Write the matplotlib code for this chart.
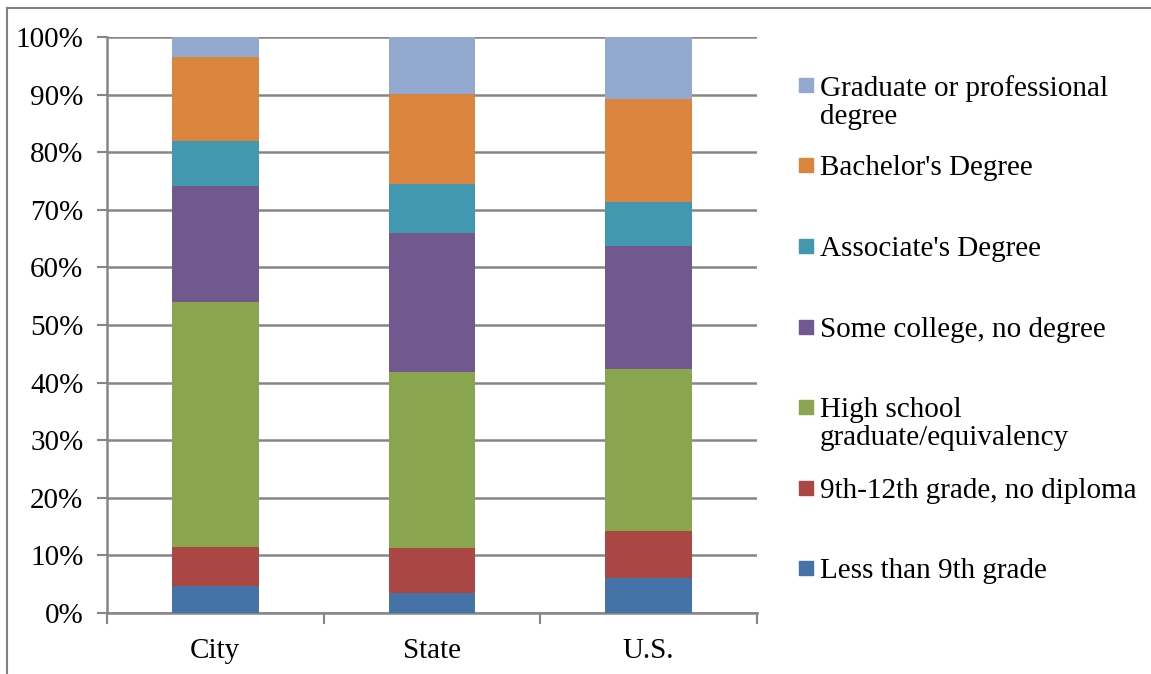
import numpy as np
import matplotlib
matplotlib.use("Agg")
import matplotlib.pyplot as plt
from matplotlib.patches import Rectangle
from matplotlib.lines import Line2D

plt.rcParams["font.family"] = ["Liberation Serif", "DejaVu Serif"]

# areas compared
places = ["City", "State", "U.S."]

# educational attainment shares (%), bottom to top
less_9th = [4.7, 3.4, 6.0]
grade_9_12 = [6.8, 7.9, 8.2]
high_school = [42.5, 30.5, 28.2]
some_college = [20.1, 24.2, 21.3]
associate = [7.8, 8.5, 7.7]
bachelor = [14.6, 15.6, 17.8]
graduate = [3.5, 9.9, 10.8]

labels = ["Less than 9th grade", "9th-12th grade, no diploma",
          "High school\ngraduate/equivalency", "Some college, no degree",
          "Associate's Degree", "Bachelor's Degree",
          "Graduate or professional\ndegree"]
series = [less_9th, grade_9_12, high_school, some_college,
          associate, bachelor, graduate]
colors = ["#4572A7", "#AA4643", "#89A54E", "#71588F",
          "#4198AF", "#DB843D", "#93A9CF"]

GRID = "#868686"
FS = 21

fig = plt.figure(figsize=(11.51, 6.74), dpi=100)
ax = fig.add_axes([0.093, 0.0905, 0.5647, 0.8545])

x = np.arange(len(places))
bottom = np.zeros(len(places))
for vals, c in zip(series, colors):
    ax.bar(x, vals, 0.4, bottom=bottom, color=c, zorder=3)
    bottom += np.array(vals)

ax.set_xlim(-0.5, 2.5)
ax.set_ylim(0, 100)
ax.set_yticks(np.arange(0, 101, 10))
ax.set_yticklabels(["{}%".format(v) for v in range(0, 101, 10)], fontsize=FS)
ax.yaxis.grid(True, color=GRID, linewidth=1.8, zorder=0)
ax.set_xticks(x)
ax.set_xticklabels(places, fontsize=FS)
ax.tick_params(axis="x", length=0, pad=18)
ax.tick_params(axis="y", length=7, width=1.5, color=GRID, pad=10)
# category separator ticks on the x axis
for b in [-0.5, 0.5, 1.5, 2.5]:
    ax.plot([b, b], [0, -0.017], transform=ax.get_xaxis_transform(),
            color=GRID, lw=1.5, clip_on=False)
for s in ["top", "right"]:
    ax.spines[s].set_visible(False)
for s in ["left", "bottom"]:
    ax.spines[s].set_color(GRID)
    ax.spines[s].set_linewidth(1.8)

# legend built by hand, top entry first
W, H = 1151.0, 674.0
entry_y = [85, 165, 246, 327, 407, 488, 568]
for i, (lab, c) in enumerate(zip(labels[::-1], colors[::-1])):
    yp = entry_y[i]
    fig.patches.append(Rectangle((799 / W, 1 - (yp + 7) / H), 14 / W, 14 / H,
                                 transform=fig.transFigure, color=c))
    fig.text(820 / W, 1 - (yp - 10) / H, lab, fontsize=FS, va="top",
             ha="left", linespacing=1.1)

# outer frame lines
fig.add_artist(Line2D([7 / W, 7 / W], [0, 1 - 8 / H], color="#808080", lw=1.5))
fig.add_artist(Line2D([7 / W, 1], [1 - 8 / H, 1 - 8 / H], color="#808080", lw=1.5))

fig.savefig("out.png", dpi=100)
